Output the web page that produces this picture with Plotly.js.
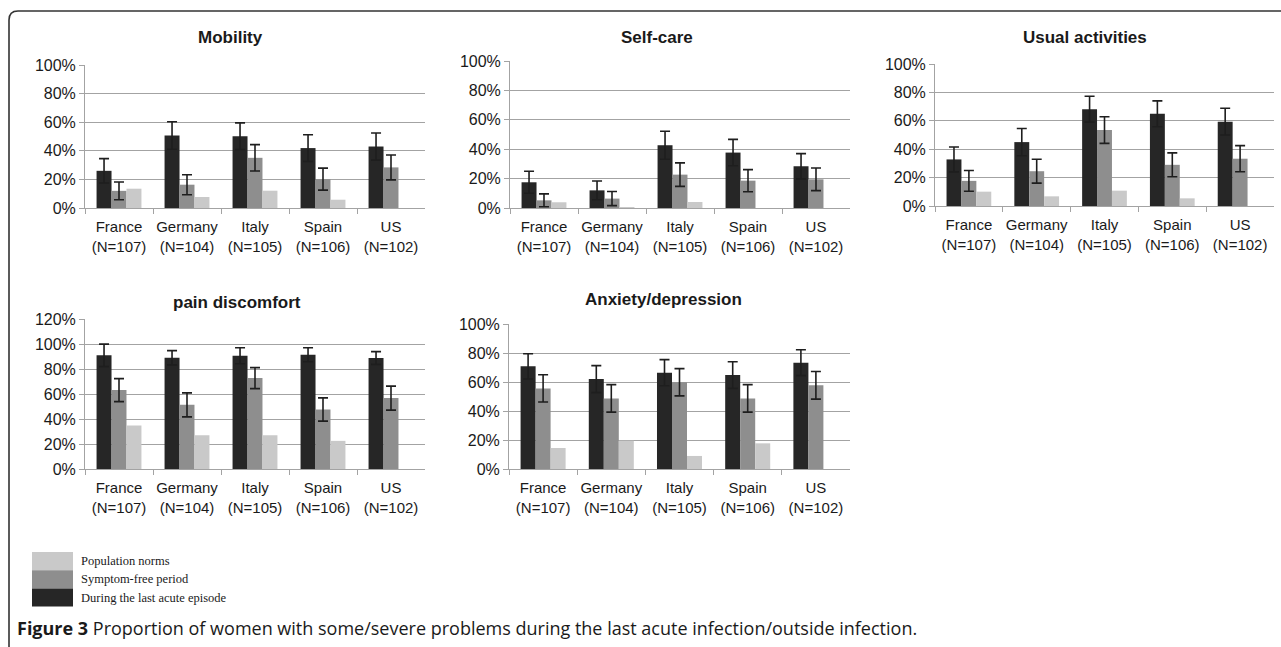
<!DOCTYPE html>
<html>
<head>
<meta charset="utf-8">
<script src="https://cdn.plot.ly/plotly-3.0.1.min.js"></script>
<style>
  html, body { margin: 0; padding: 0; background: #ffffff; }
  #chart { width: 1281px; height: 647px; }
</style>
</head>
<body>
<div id="chart"></div>
<script>
// ---------- data ----------
const countries = ['France', 'Germany', 'Italy', 'Spain', 'US'];
const sampleSizes = [107, 104, 105, 106, 102];

const panelTitles = ['Mobility', 'Self-care', 'Usual activities', 'pain discomfort', 'Anxiety/depression'];
const seriesNames = ['During the last acute episode', 'Symptom-free period', 'Population norms'];

const mobilityAcute = [26, 50.7, 50.2, 41.9, 43];
const mobilityAcuteErr = [8.5, 9.6, 9.3, 9.3, 9.5];
const mobilityFree = [12, 16.3, 35.1, 20.2, 28.4];
const mobilityFreeErr = [6.2, 7, 9.2, 7.7, 8.7];
const mobilityNorms = [13.5, 7.7, 12.1, 5.8, null];

const selfcareAcute = [17.5, 12, 42.7, 37.7, 28.4];
const selfcareAcuteErr = [7.5, 6.4, 9.5, 9, 8.6];
const selfcareFree = [5.2, 6.4, 22.7, 18.6, 19.5];
const selfcareFreeErr = [4.4, 4.8, 8, 7.5, 7.7];
const selfcareNorms = [3.9, 0.7, 4.1, null, null];

const usualAcute = [32.8, 45, 68.2, 64.9, 59.4];
const usualAcuteErr = [8.8, 9.6, 9.1, 9.1, 9.4];
const usualFree = [17.7, 24.5, 53.5, 29, 33.3];
const usualFreeErr = [7.3, 8.4, 9.4, 8.4, 9.2];
const usualNorms = [10.1, 6.8, 10.8, 5.4, null];

const painAcute = [90.9, 89, 90.6, 91.4, 88.8];
const painAcuteErr = [9, 5.7, 6.4, 5.6, 5.1];
const painFree = [63.1, 51.3, 72.7, 47.6, 56.7];
const painFreeErr = [9.2, 9.6, 8.4, 9.3, 9.6];
const painNorms = [34.8, 27, 27, 22.5, null];

const anxietyAcute = [70.8, 62, 66.4, 64.8, 73.3];
const anxietyAcuteErr = [8.7, 9.3, 9, 9.2, 8.9];
const anxietyFree = [55.6, 48.7, 59.8, 48.7, 57.7];
const anxietyFreeErr = [9.4, 9.5, 9.4, 9.5, 9.5];
const anxietyNorms = [14.5, 19.5, 9, 17.7, null];

const yMax = [100, 100, 100, 120, 100];

// ---------- styling / layout geometry ----------
const W = 1281, H = 647;
const colors = ['#262626', '#8e8e8e', '#c9c9c9'];
const gridColor = '#a3a3a3';
const tickFont = { family: 'Liberation Sans, Arial, sans-serif', size: 15, color: '#1a1a1a' };

// plot areas in pixels: [left, right, top, bottom]
const boxes = [
  [85, 425, 65, 208],
  [510, 850, 61, 208],
  [935, 1274, 64, 206],
  [85, 425, 319, 469],
  [509, 850, 324, 469]
];
const titlePos = [[230, 38], [657, 38], [1085, 38], [237, 302], [663, 300]];

const panels = [
  [mobilityAcute, mobilityAcuteErr, mobilityFree, mobilityFreeErr, mobilityNorms],
  [selfcareAcute, selfcareAcuteErr, selfcareFree, selfcareFreeErr, selfcareNorms],
  [usualAcute, usualAcuteErr, usualFree, usualFreeErr, usualNorms],
  [painAcute, painAcuteErr, painFree, painFreeErr, painNorms],
  [anxietyAcute, anxietyAcuteErr, anxietyFree, anxietyFreeErr, anxietyNorms]
];

const catLabels = countries.map((c, i) => c + '<br>(N=' + sampleSizes[i] + ')');

const traces = [];
const layout = {
  width: W, height: H,
  margin: { l: 0, r: 0, t: 0, b: 0 },
  paper_bgcolor: '#ffffff',
  plot_bgcolor: '#ffffff',
  showlegend: false,
  barmode: 'group',
  bargap: 0.34,
  bargroupgap: 0,
  annotations: [],
  shapes: [],
  font: tickFont
};

const errStyle = { color: '#1e1e1e', thickness: 1.6, width: 5 };

panels.forEach((p, k) => {
  const n = k === 0 ? '' : String(k + 1);
  const xa = 'x' + n, ya = 'y' + n;
  const series = [[p[0], p[1]], [p[2], p[3]], [p[4], null]];
  series.forEach((s, j) => {
    const t = {
      type: 'bar',
      x: catLabels,
      y: s[0],
      name: seriesNames[j],
      xaxis: xa, yaxis: ya,
      marker: { color: colors[j], line: { width: 0 } },
      hoverinfo: 'y'
    };
    if (s[1]) {
      t.error_y = Object.assign({ type: 'data', array: s[1], visible: true }, errStyle);
    }
    traces.push(t);
  });
  const b = boxes[k];
  layout['xaxis' + n] = {
    domain: [b[0] / W, b[1] / W],
    anchor: ya,
    type: 'category',
    tickson: 'boundaries',
    tickangle: 0,
    ticklabelstandoff: 5,
    ticks: 'outside', ticklen: 5, tickcolor: gridColor, tickwidth: 1,
    showline: true, linecolor: gridColor, linewidth: 1,
    showgrid: false, zeroline: false,
    tickfont: tickFont,
    fixedrange: true
  };
  layout['yaxis' + n] = {
    domain: [1 - b[3] / H, 1 - b[2] / H],
    anchor: xa,
    range: [0, yMax[k]],
    dtick: 20, tick0: 0,
    ticksuffix: '%',
    ticks: 'outside', ticklen: 5, tickcolor: gridColor, tickwidth: 1,
    showline: true, linecolor: gridColor, linewidth: 1,
    showgrid: true, gridcolor: gridColor, gridwidth: 1,
    zeroline: false,
    tickfont: { family: tickFont.family, size: 16, color: '#1a1a1a' },
    fixedrange: true
  };
  layout.annotations.push({
    xref: 'paper', yref: 'paper',
    x: titlePos[k][0] / W, y: 1 - titlePos[k][1] / H,
    xanchor: 'center', yanchor: 'middle',
    text: '<b>' + panelTitles[k] + '</b>',
    showarrow: false,
    font: { family: 'Liberation Sans, Arial, sans-serif', size: 17, color: '#1a1a1a' }
  });
});

// legend drawn as stacked swatches with labels
const legendOrder = [2, 1, 0];
const legTop = 552, legH = 18.2;
legendOrder.forEach((j, r) => {
  const y0 = legTop + r * legH, y1 = y0 + legH;
  layout.shapes.push({
    type: 'rect', xref: 'paper', yref: 'paper',
    x0: 32 / W, x1: 73 / W, y0: 1 - y1 / H, y1: 1 - y0 / H,
    fillcolor: colors[j], line: { width: 0 }
  });
  layout.annotations.push({
    xref: 'paper', yref: 'paper',
    x: 79 / W, y: 1 - (y0 + legH / 2) / H,
    xanchor: 'left', yanchor: 'middle',
    text: seriesNames[j], showarrow: false,
    font: { family: 'Liberation Serif, Times New Roman, serif', size: 12.5, color: '#1a1a1a' }
  });
});

// figure caption
layout.annotations.push({
  xref: 'paper', yref: 'paper',
  x: 15 / W, y: 1 - 628 / H,
  xanchor: 'left', yanchor: 'middle',
  text: '<b>Figure 3</b> Proportion of women with some/severe problems during the last acute infection/outside infection.',
  showarrow: false,
  font: { family: 'Open Sans, sans-serif', size: 18, color: '#1a1a1a' }
});

// figure frame (top and left edges with rounded corner)
const fx = 9 / W, fy = 1 - 11 / H;
layout.shapes.push({
  type: 'path', xref: 'paper', yref: 'paper',
  path: 'M ' + fx + ' -0.02 L ' + fx + ' ' + (1 - 20 / H) +
        ' Q ' + fx + ' ' + fy + ' ' + (18 / W) + ' ' + fy +
        ' L 1.01 ' + fy,
  line: { color: '#333333', width: 1.6 }
});

Plotly.newPlot('chart', traces, layout, { displayModeBar: false, staticPlot: true });
</script>
</body>
</html>
